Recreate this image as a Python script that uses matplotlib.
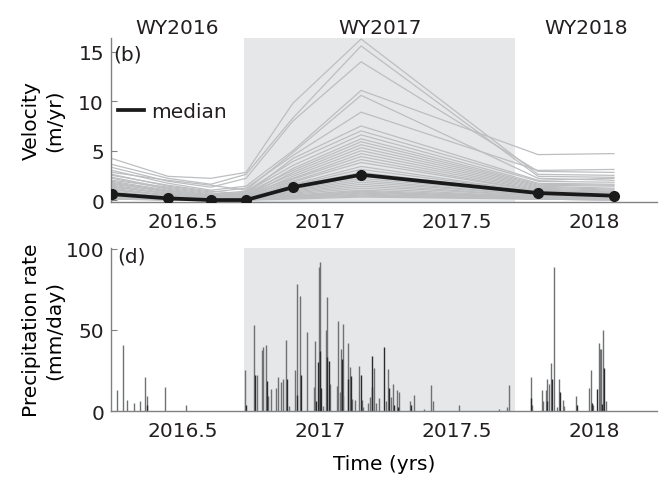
import numpy as np
import matplotlib.pyplot as plt

# Sampling dates of the velocity maps (decimal years)
vel_times = [2016.241, 2016.445, 2016.602, 2016.730, 2016.901, 2017.150, 2017.796, 2018.073]

# Velocity (m/yr) of each tracked feature at the dates above
vel_lines = [
    [4.2, 2.4, 2.2, 2.8, 9.8, 16.3, 2.6, 2.5],
    [3.6, 2.2, 1.6, 2.6, 8.3, 15.6, 2.4, 2.3],
    [3.3, 1.9, 1.3, 2.2, 8.0, 14.0, 2.9, 2.8],
    [3.0, 1.7, 1.0, 1.4, 5.0, 11.1, 4.6, 4.7],
    [2.8, 2.0, 1.5, 1.0, 4.8, 10.6, 2.2, 2.0],
    [2.6, 1.4, 0.8, 1.2, 4.5, 8.9, 3.0, 3.1],
    [2.5, 1.5, 0.9, 0.6, 4.2, 7.5, 2.0, 2.2],
    [2.3, 1.2, 0.6, 0.9, 3.9, 7.0, 1.9, 1.8],
    [2.2, 1.1, 0.5, 0.8, 3.5, 6.6, 1.7, 1.6],
    [2.0, 1.3, 0.7, 0.5, 3.2, 6.2, 1.6, 1.5],
    [1.9, 1.0, 0.4, 0.7, 3.0, 5.9, 1.5, 1.4],
    [1.8, 0.9, 0.5, 0.4, 2.8, 5.6, 1.4, 1.2],
    [1.7, 0.8, 0.3, 0.6, 2.6, 5.3, 1.3, 1.1],
    [1.6, 0.9, 0.4, 0.3, 2.4, 5.0, 1.2, 1.0],
    [1.5, 0.7, 0.2, 0.5, 2.2, 4.7, 1.1, 0.9],
    [1.4, 0.6, 0.3, 0.2, 2.1, 4.4, 1.0, 0.8],
    [1.3, 0.7, 0.1, 0.4, 1.9, 4.1, 0.9, 0.8],
    [1.2, 0.5, 0.2, 0.1, 1.8, 3.8, 0.9, 0.7],
    [1.1, 0.4, 0.1, 0.3, 1.6, 3.4, 0.8, 0.6],
    [1.0, 0.5, 0.1, 0.1, 1.5, 3.1, 0.8, 0.5],
    [0.9, 0.3, 0.1, 0.2, 1.4, 2.8, 0.7, 0.5],
    [0.8, 0.2, 0.0, 0.1, 1.2, 2.4, 0.6, 0.4],
    [0.7, 0.3, 0.1, 0.0, 1.1, 2.2, 0.6, 0.4],
    [0.7, 0.2, 0.0, 0.1, 1.0, 2.0, 0.5, 0.3],
    [0.6, 0.2, 0.1, 0.0, 0.9, 1.8, 0.5, 0.3],
    [0.5, 0.1, 0.0, 0.1, 0.8, 1.6, 0.4, 0.3],
    [0.5, 0.2, 0.0, 0.0, 0.7, 1.4, 0.4, 0.2],
    [0.4, 0.1, 0.0, 0.0, 0.6, 1.2, 0.3, 0.2],
    [0.4, 0.1, 0.0, 0.0, 0.5, 1.0, 0.3, 0.2],
    [0.3, 0.1, 0.0, 0.0, 0.4, 0.9, 0.2, 0.1],
    [0.3, 0.0, 0.0, 0.0, 0.4, 0.8, 0.2, 0.1],
    [0.2, 0.1, 0.0, 0.0, 0.3, 0.7, 0.2, 0.1],
    [0.2, 0.0, 0.0, 0.0, 0.3, 0.6, 0.1, 0.1],
    [0.2, 0.0, 0.0, 0.0, 0.2, 0.5, 0.1, 0.0],
    [0.1, 0.0, 0.0, 0.0, 0.2, 0.4, 0.1, 0.0],
    [0.1, 0.0, 0.0, 0.0, 0.1, 0.3, 0.1, 0.0],
]

vel_median = [0.6, 0.17, 0.0, 0.0, 1.3, 2.56, 0.71, 0.44]

# Daily precipitation (mm/day), two overlapping records
precip_gray_t = [
    2016.260, 2016.282, 2016.297, 2016.321, 2016.343, 2016.362, 2016.367, 2016.434, 2016.512,
    2016.726, 2016.759, 2016.771, 2016.787, 2016.793, 2016.803, 2016.811, 2016.820, 2016.838,
    2016.847, 2016.857, 2016.866, 2016.876, 2016.888, 2016.909, 2016.915, 2016.928, 2016.951,
    2016.978, 2016.982, 2016.995, 2017.000, 2017.010, 2017.022, 2017.027, 2017.036, 2017.063,
    2017.066, 2017.073, 2017.077, 2017.083, 2017.085, 2017.101, 2017.111, 2017.117, 2017.127,
    2017.143, 2017.152, 2017.158, 2017.176, 2017.182, 2017.198, 2017.204, 2017.214, 2017.241,
    2017.249, 2017.260, 2017.268, 2017.282, 2017.288, 2017.328, 2017.343, 2017.380, 2017.405,
    2017.411, 2017.507, 2017.654, 2017.684, 2017.690,
    2017.769, 2017.775, 2017.809, 2017.815, 2017.824, 2017.827, 2017.837, 2017.843, 2017.855,
    2017.864, 2017.872, 2017.888, 2017.892, 2017.934, 2017.982, 2017.989, 2017.997, 2018.017,
    2018.022, 2018.026, 2018.034, 2018.043,
]
precip_gray_v = [
    13, 41, 7, 5, 6, 21, 9, 15, 4,
    25, 53, 22, 37.6, 39.5, 41, 9.4, 13.5, 14,
    21, 17.6, 20, 43.6, 3, 25, 78, 71, 49,
    14.5, 43, 88.5, 92, 3, 50, 70, 16.6, 15.5,
    55.4, 11.5, 38, 53.4, 9.4, 42, 27, 7.4, 6.6,
    27.8, 7, 2.5, 4.7, 8.8, 26.8, 5, 8, 6,
    25.6, 8.8, 16.6, 12.9, 12, 6.3, 10, 1, 16,
    6, 3.7, 1.5, 2.5, 16,
    21, 4, 12.9, 6, 12.9, 19.6, 16.6, 29.4, 89,
    2.5, 20, 7, 3, 9.4, 14, 25.4, 4, 42,
    38, 38, 50, 6,
]
precip_dark_t = [
    2016.370, 2016.730, 2016.762, 2016.805, 2016.881, 2016.917, 2016.930, 2016.985, 2016.993,
    2017.001, 2017.003, 2017.024, 2017.033, 2017.079, 2017.103, 2017.113, 2017.149, 2017.189,
    2017.191, 2017.235, 2017.253, 2017.270, 2017.286, 2017.332,
    2017.771, 2017.830, 2017.847, 2017.876, 2017.937, 2017.993, 2018.010, 2018.028, 2018.036,
]
precip_dark_v = [
    4, 4, 22, 18.6, 20, 10, 22, 6, 30,
    37, 14, 33, 31, 32, 20, 21.7, 22, 34,
    15, 39.5, 14, 4, 2.5, 3.7,
    8, 6, 20, 11.5, 3.7, 5, 13.5, 4.5, 26.8,
]

# Water year 2017 shading and plot range
wy_start, wy_end = 2016.723, 2017.712
t_min, t_max = 2016.237, 2018.230

ink = '#231f20'
spine_col = '#808285'
plt.rcParams['font.size'] = 14.5
plt.rcParams['text.color'] = ink

fig = plt.figure(figsize=(6.59, 4.85), dpi=100)
ax1 = fig.add_axes([0.1684, 0.5814, 0.8285, 0.3381])
ax2 = fig.add_axes([0.1684, 0.1505, 0.8285, 0.3361])

for ax in (ax1, ax2):
    ax.axvspan(wy_start, wy_end, color='#e6e7e8', lw=0, zorder=0)
    ax.set_xlim(t_min, t_max)
    for s in ('top', 'right'):
        ax.spines[s].set_visible(False)
    for s in ('left', 'bottom'):
        ax.spines[s].set_color(spine_col)
        ax.spines[s].set_linewidth(1.0)
    ax.set_xticks([2016.5, 2017, 2017.5, 2018])
    ax.set_xticklabels(['2016.5', '2017', '2017.5', '2018'])
    ax.tick_params(axis='x', length=0, pad=7, labelcolor=ink, labelsize=14.5)
    ax.tick_params(axis='y', direction='in', length=4, color=spine_col,
                   pad=5, labelcolor=ink, labelsize=14.5)

# (b) velocity
for line in vel_lines:
    ax1.plot(vel_times, line, color='#bdbec0', lw=0.9, zorder=1)
ax1.plot(vel_times, vel_median, color='#1a1a1a', lw=2.7, marker='o', ms=7,
         zorder=3, label='median')
ax1.set_ylim(-0.2, 16.4)
ax1.set_yticks([0, 5, 10, 15])
ax1.set_ylabel('Velocity\n(m/yr)', linespacing=1.3)
ax1.yaxis.set_label_coords(-0.085, 0.5)
ax1.text(0.004, 14.8, '(b)', transform=ax1.get_yaxis_transform(), va='center', ha='left')
ax1.legend(loc='center left', bbox_to_anchor=(0.012, 0.552), frameon=False,
           borderpad=0, borderaxespad=0, handlelength=1.3, handletextpad=0.35,
           markerscale=0, fontsize=14.5)

# water year labels centred over each visible segment
wy_bounds = [t_min, wy_start, wy_end, t_max]
for i, name in enumerate(['WY2016', 'WY2017', 'WY2018']):
    ax1.text((wy_bounds[i] + wy_bounds[i + 1]) / 2, 1.062, name,
             transform=ax1.get_xaxis_transform(), ha='center', va='center')

# (d) precipitation
ax2.vlines(precip_gray_t, 0, precip_gray_v, color='#707173', lw=1.0, zorder=1)
ax2.vlines(precip_dark_t, 0, precip_dark_v, color='#2b2b2b', lw=1.0, zorder=2)
ax2.set_ylim(0, 100.5)
ax2.set_yticks([0, 50, 100])
ax2.set_ylabel('Precipitation rate\n(mm/day)', linespacing=1.3)
ax2.yaxis.set_label_coords(-0.085, 0.5)
ax2.text(0.011, 95.7, '(d)', transform=ax2.get_yaxis_transform(), va='center', ha='left')
ax2.set_xlabel('Time (yrs)', labelpad=10)

fig.savefig('out.png', dpi=100)
